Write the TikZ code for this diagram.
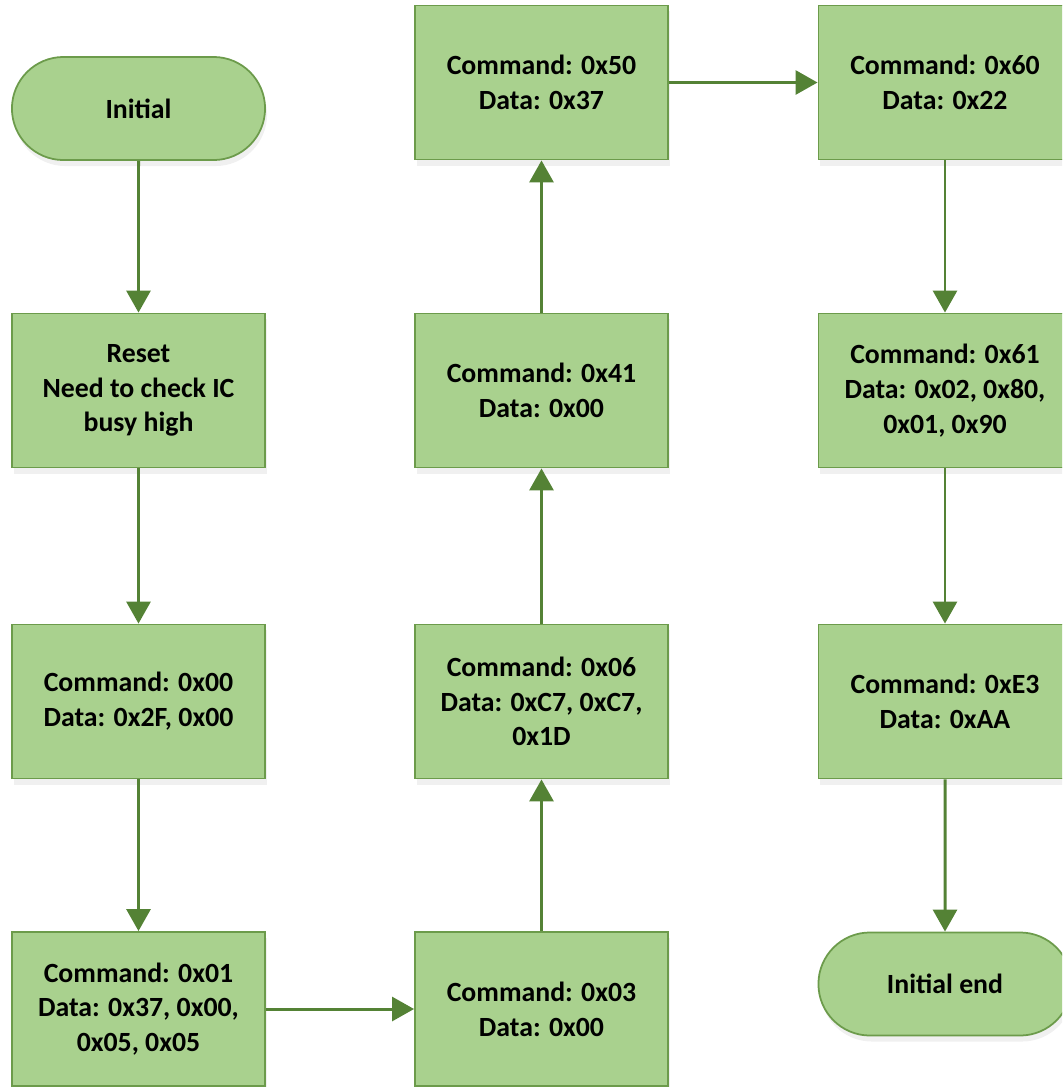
\documentclass[tikz,border=0pt]{standalone}
\usepackage{fontspec}
\setmainfont{Carlito}
\usetikzlibrary{positioning,shapes.misc,shadows,arrows.meta}
\definecolor{boxfill}{HTML}{A9D18E}
\definecolor{boxline}{HTML}{6C9B4B}
\definecolor{flowline}{HTML}{548235}

\begin{document}
\begin{tikzpicture}[x=0.01cm,y=-0.01cm]
\tikzstyle{every node}+=[font=\fontsize{7.9}{9.9}\selectfont\bfseries, align=center]
\tikzstyle{cmdbox}=[draw=boxline, fill=boxfill, line width=0.5pt, minimum width=2.53cm, minimum height=1.54cm, inner sep=0pt, drop shadow={shadow xshift=0.2mm, shadow yshift=-0.6mm, opacity=0.12}]
\tikzstyle{term}=[cmdbox, rounded rectangle, minimum height=1.03cm]
\tikzstyle{flow}=[draw=flowline, line width=0.85pt, -{Triangle[length=0.22cm, width=0.24cm]}]
\clip (0,0) rectangle (1062,1087);
% left column
\node[term] (init) at (138.5,108.5) {Initial};
\node[cmdbox] (reset) at (138.5,390.5) {Reset\\Need to check IC\\busy high};
\node[cmdbox] (c00) at (138.5,701.5) {Command: 0x00\\Data: 0x2F, 0x00};
\node[cmdbox] (c01) at (138.5,1009) {Command: 0x01\\Data: 0x37, 0x00,\\0x05, 0x05};
% middle column
\node[cmdbox] (c03) at (541.5,1009) {Command: 0x03\\Data: 0x00};
\node[cmdbox] (c06) at (541.5,701.5) {Command: 0x06\\Data: 0xC7, 0xC7,\\0x1D};
\node[cmdbox] (c41) at (541.5,390.5) {Command: 0x41\\Data: 0x00};
\node[cmdbox] (c50) at (541.5,82.5) {Command: 0x50\\Data: 0x37};
% right column
\node[cmdbox] (c60) at (945,82.5) {Command: 0x60\\Data: 0x22};
\node[cmdbox] (c61) at (945,390.5) {Command: 0x61\\Data: 0x02, 0x80,\\0x01, 0x90};
\node[cmdbox] (cE3) at (945,701.5) {Command: 0xE3\\Data: 0xAA};
\node[term] (iend) at (945,984) {Initial end};
% flow
\draw[flow] (init) -- (reset);
\draw[flow] (reset) -- (c00);
\draw[flow] (c00) -- (c01);
\draw[flow] (c01) -- (c03);
\draw[flow] (c03) -- (c06);
\draw[flow] (c06) -- (c41);
\draw[flow] (c41) -- (c50);
\draw[flow] (c50) -- (c60);
\draw[flow] (c60) -- (c61);
\draw[flow] (c61) -- (cE3);
\draw[flow] (cE3) -- (iend);
\end{tikzpicture}
\end{document}
